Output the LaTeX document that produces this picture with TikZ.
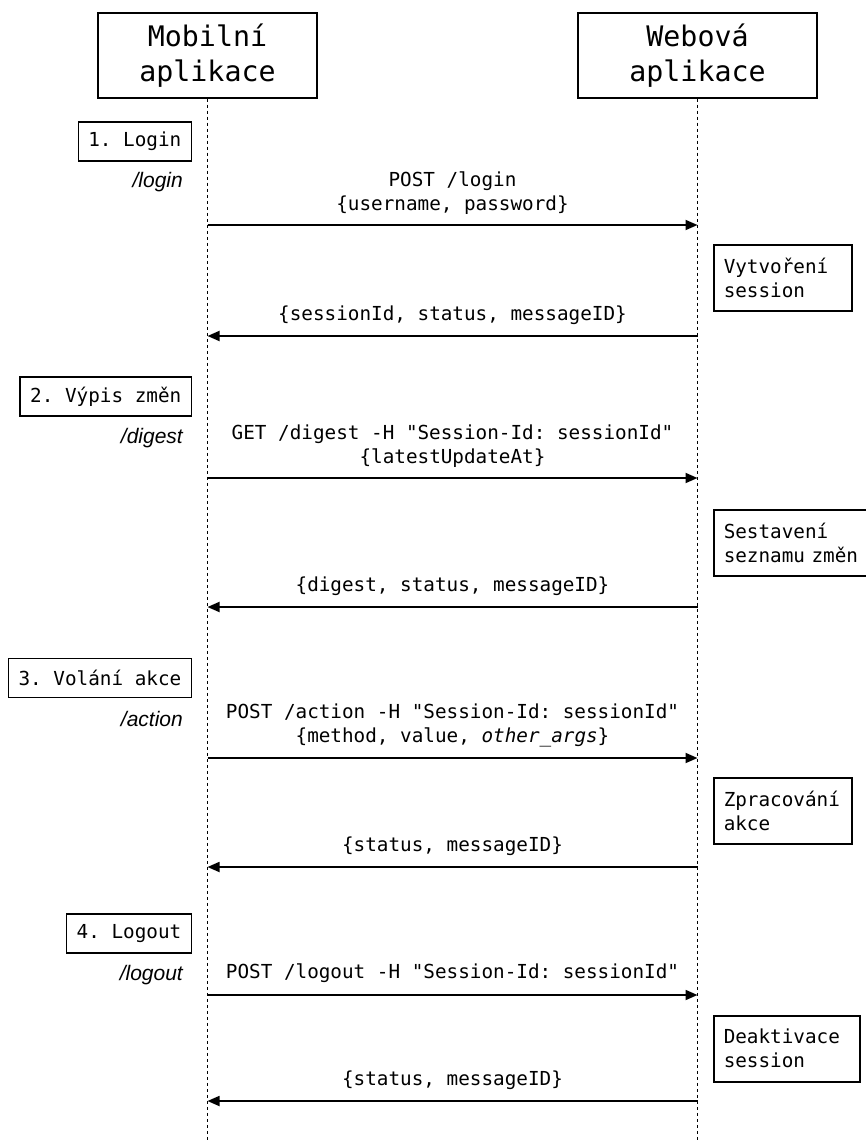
\documentclass[tikz,border=0pt]{standalone}
\usepackage{fontspec}
\setmonofont{DejaVu Sans Mono}
\setsansfont{Liberation Sans}
\usepackage{tikz}
\usetikzlibrary{%
  arrows.meta,
  positioning}
\newcommand{\msgfont}{\fontsize{19.3}{24}\selectfont\ttfamily}
\tikzset{
  %% Participants (lifeline heads)
  actorbox/.style={
    rectangle, draw=black, line width=1.5pt,
    align=center, minimum height=85pt,
    font=\fontsize{28.3}{35}\selectfont\ttfamily},
  %% Numbered step boxes (client side)
  stepbox/.style={
    rectangle, draw=black, line width=1.5pt,
    minimum height=39pt, inner xsep=10pt,
    anchor=east, font=\msgfont},
  %% Server processing boxes
  procbox/.style={
    rectangle, draw=black, line width=1.5pt,
    align=left, inner xsep=10pt,
    minimum height=66pt, anchor=north west, font=\msgfont},
  %% Endpoint names
  route/.style={
    anchor=east, inner sep=0pt,
    font=\fontsize{21}{24}\selectfont\sffamily\itshape},
  %% Message texts
  msgtext/.style={align=center, inner sep=0pt, font=\msgfont},
  %% Lines
  lifeline/.style={line width=1.6pt, dash pattern=on 3pt off 3pt},
  msg/.style={-{Triangle[length=12pt,width=10pt]}, line width=1.8pt},
}

\begin{document}
\begin{tikzpicture}[x=1pt, y=1pt]

  \path[use as bounding box, fill=white] (0,0) rectangle (866,-1142);

  \node[actorbox, minimum width=219pt] (mob) at (207.5,-55.5) {Mobilní\\aplikace};
  \node[actorbox, minimum width=239pt] (web) at (697.5,-55.5) {Webová\\aplikace};

  \coordinate (mobEnd) at (mob |- 0,-1142);
  \coordinate (webEnd) at (web |- 0,-1142);
  \draw[lifeline] (mob) -- (mobEnd);
  \draw[lifeline] (web) -- (webEnd);

  %% 1. Login
  \node[stepbox] (login) at (192,-141.5) {1. Login};
  \node[route] (rlogin) at (183,-182) {/login};
  \coordinate (m1) at (mob |- 0,-225);
  \coordinate (w1) at (web |- 0,-225);
  \node[procbox, text width=118pt] (create) at (713,-244) {Vytvoření\\session};
  \coordinate (m2) at (mob |- 0,-336);
  \coordinate (w2) at (web |- 0,-336);

  \draw[msg] (m1) -- node[msgtext, above=10pt] {POST /login\\\{username, password\}} (w1);
  \draw[msg] (w2) -- node[msgtext, above=10pt] {\{sessionId, status, messageID\}} (m2);

  %% 2. Digest
  \node[stepbox] (digest) at (192,-396.5) {2. Výpis změn};
  \node[route] (rdigest) at (183,-438) {/digest};
  \coordinate (m3) at (mob |- 0,-478);
  \coordinate (w3) at (web |- 0,-478);
  \node[procbox, text width=150pt] (build) at (713,-509) {Sestavení\\seznamu změn};
  \coordinate (m4) at (mob |- 0,-607);
  \coordinate (w4) at (web |- 0,-607);

  \draw[msg] (m3) -- node[msgtext, above=10pt]
        {GET /digest -H "Session-Id: sessionId"\\\{latestUpdateAt\}} (w3);
  \draw[msg] (w4) -- node[msgtext, above=10pt] {\{digest, status, messageID\}} (m4);

  %% 3. Action
  \node[stepbox] (action) at (192,-678) {3. Volání akce};
  \node[route] (raction) at (183,-719) {/action};
  \coordinate (m5) at (mob |- 0,-758);
  \coordinate (w5) at (web |- 0,-758);
  \node[procbox, text width=118pt] (process) at (713,-777) {Zpracování\\akce};
  \coordinate (m6) at (mob |- 0,-867);
  \coordinate (w6) at (web |- 0,-867);

  \draw[msg] (m5) -- node[msgtext, above=10pt]
        {POST /action -H "Session-Id: sessionId"\\\{method, value, \textit{other\_args}\}} (w5);
  \draw[msg] (w6) -- node[msgtext, above=10pt] {\{status, messageID\}} (m6);

  %% 4. Logout
  \node[stepbox] (logout) at (192,-933.5) {4. Logout};
  \node[route] (rlogout) at (183,-975) {/logout};
  \coordinate (m7) at (mob |- 0,-995);
  \coordinate (w7) at (web |- 0,-995);
  \node[procbox, text width=126pt] (deact) at (713,-1015) {Deaktivace\\session};
  \coordinate (m8) at (mob |- 0,-1101);
  \coordinate (w8) at (web |- 0,-1101);

  \draw[msg] (m7) -- node[msgtext, above=11pt] {POST /logout -H "Session-Id: sessionId"} (w7);
  \draw[msg] (w8) -- node[msgtext, above=10pt] {\{status, messageID\}} (m8);

\end{tikzpicture}
\end{document}
